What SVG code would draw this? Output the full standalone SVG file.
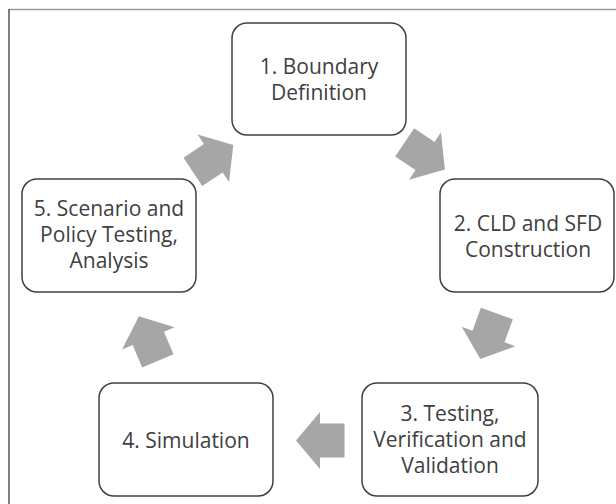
<svg xmlns="http://www.w3.org/2000/svg" width="616" height="504" viewBox="0 0 616 504">
<style>
.box{fill:#ffffff;stroke:#404040;stroke-width:1.5}
.t{font-family:"Open Sans","Liberation Sans",sans-serif;font-size:21px;fill:#404040;text-anchor:middle}
.arr{fill:#a6a6a6}
</style>
<defs>
<path id="ar" d="M -24.5,-17 L 0,-17 L 0,-28.5 L 24,0 L 0,28.5 L 0,17 L -24.5,17 Z"/>
</defs>
<rect width="616" height="504" fill="#ffffff"/>
<line x1="9" y1="9.5" x2="616" y2="9.5" stroke="#9a9a9a" stroke-width="1.5"/>
<line x1="9" y1="9" x2="9" y2="504" stroke="#555555" stroke-width="1.5"/>
<g id="connectors">
<use href="#ar" class="arr" transform="translate(425,156) rotate(34)"/>
<use href="#ar" class="arr" transform="translate(488.5,336.5) rotate(110)"/>
<use href="#ar" class="arr" transform="translate(320,440.5) rotate(180)"/>
<use href="#ar" class="arr" transform="translate(148.3,338.3) rotate(-113)"/>
<use href="#ar" class="arr" transform="translate(213.3,158.3) rotate(-33.5)"/>
</g>
<g id="n1">
<rect class="box" x="232" y="23" width="174" height="112" rx="15"/>
<text class="t" x="319" y="73.5">1. Boundary</text>
<text class="t" x="319" y="99.5">Definition</text>
</g>
<g id="n2">
<rect class="box" x="440" y="179" width="174" height="113" rx="15"/>
<text class="t" x="528" y="231">2. CLD and SFD</text>
<text class="t" x="528" y="257">Construction</text>
</g>
<g id="n3">
<rect class="box" x="362" y="383" width="176" height="113" rx="15"/>
<text class="t" x="450" y="421">3. Testing,</text>
<text class="t" x="450" y="447">Verification and</text>
<text class="t" x="450" y="473">Validation</text>
</g>
<g id="n4">
<rect class="box" x="99" y="383" width="174" height="113" rx="15"/>
<text class="t" x="186" y="447.5">4. Simulation</text>
</g>
<g id="n5">
<rect class="box" x="22" y="179" width="174" height="113" rx="15"/>
<text class="t" x="109" y="216">5. Scenario and</text>
<text class="t" x="109" y="242">Policy Testing,</text>
<text class="t" x="109" y="268">Analysis</text>
</g>
</svg>
